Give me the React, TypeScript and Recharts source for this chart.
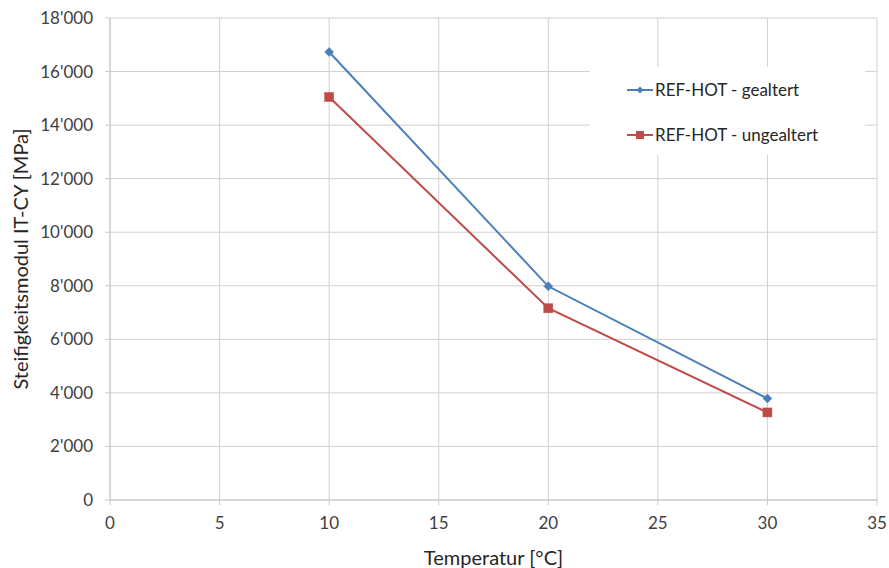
import React from 'react';
import { LineChart, Line, XAxis, YAxis, CartesianGrid, Legend } from 'recharts';

const temperatures = [10, 20, 30];
const gealtert = [16730, 7980, 3790];
const ungealtert = [15050, 7160, 3270];
const xTicks = [0, 5, 10, 15, 20, 25, 30, 35];
const yTicks = [0, 2000, 4000, 6000, 8000, 10000, 12000, 14000, 16000, 18000];

const seriesNames = ['REF-HOT - gealtert', 'REF-HOT - ungealtert'];
const BLUE = '#4a7ebb';
const RED = '#be4b48';

const data = temperatures.map((t, i) => ({ t, g: gealtert[i], u: ungealtert[i] }));

const fmt = (v: number) => {
  if (v === 0) return '0';
  const s = String(v);
  return s.slice(0, s.length - 3) + "'" + s.slice(s.length - 3);
};

const Diamond = (props: any) => {
  const { cx, cy } = props;
  if (cx == null || cy == null) return null;
  const r = 4.5;
  return <path d={`M${cx},${cy - r}L${cx + r},${cy}L${cx},${cy + r}L${cx - r},${cy}Z`} fill={BLUE} stroke={BLUE} strokeWidth={0.5} />;
};
const Square = (props: any) => {
  const { cx, cy } = props;
  if (cx == null || cy == null) return null;
  const r = 4.5;
  return <rect x={cx - r} y={cy - r} width={2 * r} height={2 * r} fill={RED} stroke={RED} strokeWidth={0.5} />;
};

const LegendContent = () => (
  <div style={{ background: '#fff', width: 275, height: 88, position: 'relative', fontFamily: 'Lato', fontSize: 17, color: '#262626' }}>
    {[
      { name: seriesNames[0], color: BLUE, marker: 'd', top: 12 },
      { name: seriesNames[1], color: RED, marker: 's', top: 57 },
    ].map((it) => (
      <div key={it.name} style={{ position: 'absolute', left: 37, top: it.top, display: 'flex', alignItems: 'center', whiteSpace: 'nowrap' }}>
        <svg width={26} height={16} style={{ marginRight: 2 }}>
          <line x1={0} y1={8} x2={26} y2={8} stroke={it.color} strokeWidth={2} />
          {it.marker === 'd' ? (
            <path d="M13,4.5L16.5,8L13,11.5L9.5,8Z" fill={it.color} />
          ) : (
            <rect x={9} y={4} width={8} height={8} fill={it.color} />
          )}
        </svg>
        <span>{it.name}</span>
      </div>
    ))}
  </div>
);

export default function App() {
  return (
    <div style={{ position: 'absolute', left: 0, top: 0, width: 889, height: 568, background: '#fff' }}>
      <LineChart width={889} height={568} data={data} margin={{ top: 18, right: 12, bottom: 0, left: 0 }}>
        <CartesianGrid stroke="#d0d0d0" strokeWidth={1} />
        <XAxis
          dataKey="t"
          type="number"
          domain={[0, 35]}
          ticks={xTicks}
          height={68}
          stroke="#c8c8c8"
          tickSize={5}
          tick={{ fill: '#404040', fontSize: 17, fontFamily: 'Lato' }}
          tickMargin={12}
          label={{ value: 'Temperatur [°C]', position: 'insideBottom', offset: 3, fill: '#262626', fontSize: 20, fontFamily: 'Lato' }}
        />
        <YAxis
          type="number"
          domain={[0, 18000]}
          ticks={yTicks}
          width={110}
          stroke="#c8c8c8"
          tickSize={5}
          tickFormatter={fmt}
          tick={{ fill: '#404040', fontSize: 17, fontFamily: 'Lato' }}
          tickMargin={12}
          label={{ value: 'Steifigkeitsmodul IT-CY [MPa]', angle: -90, position: 'insideLeft', offset: 21, fill: '#262626', fontSize: 20, fontFamily: 'Lato', style: { textAnchor: 'middle' } }}
        />
        <Legend
          layout="vertical"
          verticalAlign="middle"
          align="center"
          wrapperStyle={{ left: 590, top: 67, width: 275, height: 88 }}
          content={<LegendContent />}
        />
        <Line dataKey="g" name={seriesNames[0]} stroke={BLUE} strokeWidth={2} dot={<Diamond />} activeDot={false} isAnimationActive={false} />
        <Line dataKey="u" name={seriesNames[1]} stroke={RED} strokeWidth={2} dot={<Square />} activeDot={false} isAnimationActive={false} />
      </LineChart>
    </div>
  );
}
